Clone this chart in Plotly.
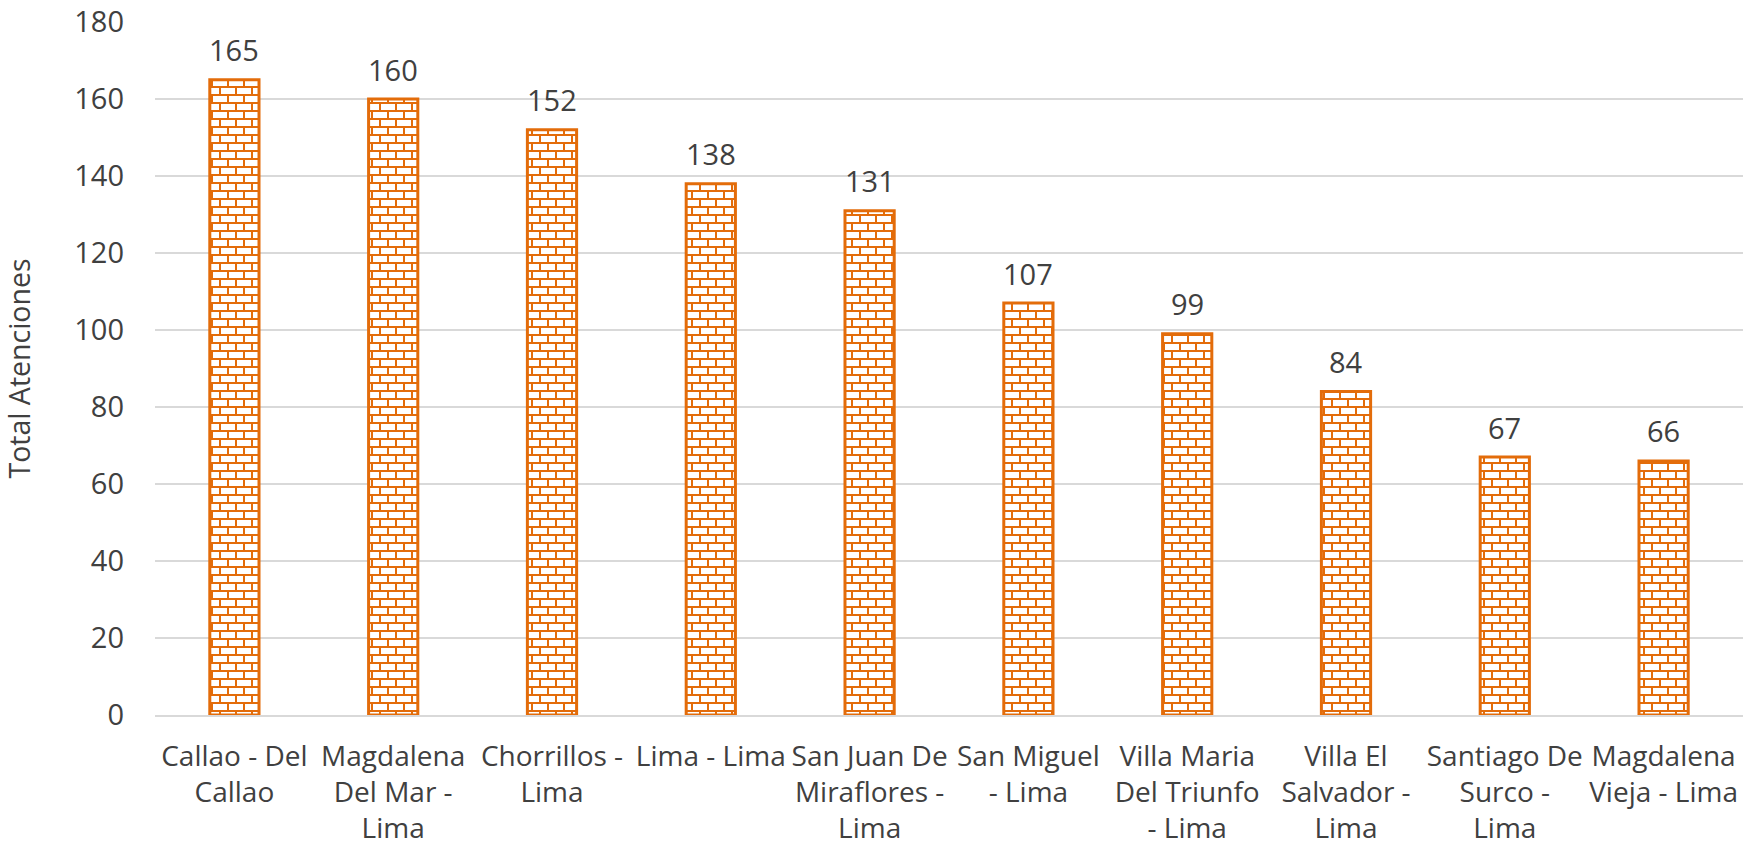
import plotly.graph_objects as go

# datos: total de atenciones por distrito
distritos = [
    "Callao - Del<br>Callao",
    "Magdalena<br>Del Mar -<br>Lima",
    "Chorrillos -<br>Lima",
    "Lima - Lima",
    "San Juan De<br>Miraflores -<br>Lima",
    "San Miguel<br>- Lima",
    "Villa Maria<br>Del Triunfo<br>- Lima",
    "Villa El<br>Salvador -<br>Lima",
    "Santiago De<br>Surco -<br>Lima",
    "Magdalena<br>Vieja - Lima",
]
atenciones = [165, 160, 152, 138, 131, 107, 99, 84, 67, 66]
y_ticks = [0, 20, 40, 60, 80, 100, 120, 140, 160, 180]

NARANJA = "#E36C0A"
GRIS_TEXTO = "#404040"
FUENTE = "Open Sans"

fig = go.Figure()
fig.add_trace(go.Bar(
    x=distritos,
    y=atenciones,
    width=0.31,
    marker=dict(
        color="white",
        line=dict(color=NARANJA, width=3),
        pattern=dict(shape="+", fgcolor=NARANJA, bgcolor="white", size=8, solidity=0.25),
    ),
    hoverinfo="x+y",
))

# etiquetas de datos encima de cada barra
for d, v in zip(distritos, atenciones):
    fig.add_annotation(
        x=d, y=v, text=str(v), showarrow=False,
        yanchor="middle", yshift=30,
        font=dict(family=FUENTE, size=29, color=GRIS_TEXTO),
    )

fig.update_layout(
    width=1748,
    height=849,
    paper_bgcolor="white",
    plot_bgcolor="white",
    margin=dict(l=155, r=5, t=22, b=134),
    showlegend=False,
    font=dict(family=FUENTE, size=29, color=GRIS_TEXTO),
)

fig.update_xaxes(
    showgrid=False,
    showline=True,
    linecolor="#D9D9D9",
    linewidth=2,
    ticks="",
    tickangle=0,
    ticklabelstandoff=15,
    tickfont=dict(family=FUENTE, size=28, color=GRIS_TEXTO),
    automargin=False,
)
fig.update_yaxes(
    range=[0, 180],
    tickvals=y_ticks,
    showgrid=True,
    gridcolor="#D9D9D9",
    gridwidth=1.5,
    zeroline=False,
    showline=False,
    ticks="",
    ticklabelstandoff=30,
    tickfont=dict(family=FUENTE, size=29, color=GRIS_TEXTO),
    title=dict(text="Total Atenciones", font=dict(family=FUENTE, size=28.5, color=GRIS_TEXTO), standoff=42),
    automargin=False,
)

# patron de ladrillos (16x8) en lugar de la cuadricula "+"
post = """
document.body.style.margin = '0';
var gd = document.getElementById('{plot_id}');
function ladrillos() {
  gd.querySelectorAll('pattern').forEach(function (p) {
    p.setAttribute('width', '16');
    p.setAttribute('height', '16');
    p.setAttribute('patternTransform', '');
    p.innerHTML = '<rect width="16" height="16" fill="white"/>' +
      '<path d="M0,1H16M0,9H16M1,1V9M9,9V17" stroke="%s" stroke-width="2" fill="none"/>';
  });
}
ladrillos();
gd.on('plotly_afterplot', ladrillos);
""" % NARANJA

fig.write_html("out.html", post_script=post, config={"displayModeBar": False})
